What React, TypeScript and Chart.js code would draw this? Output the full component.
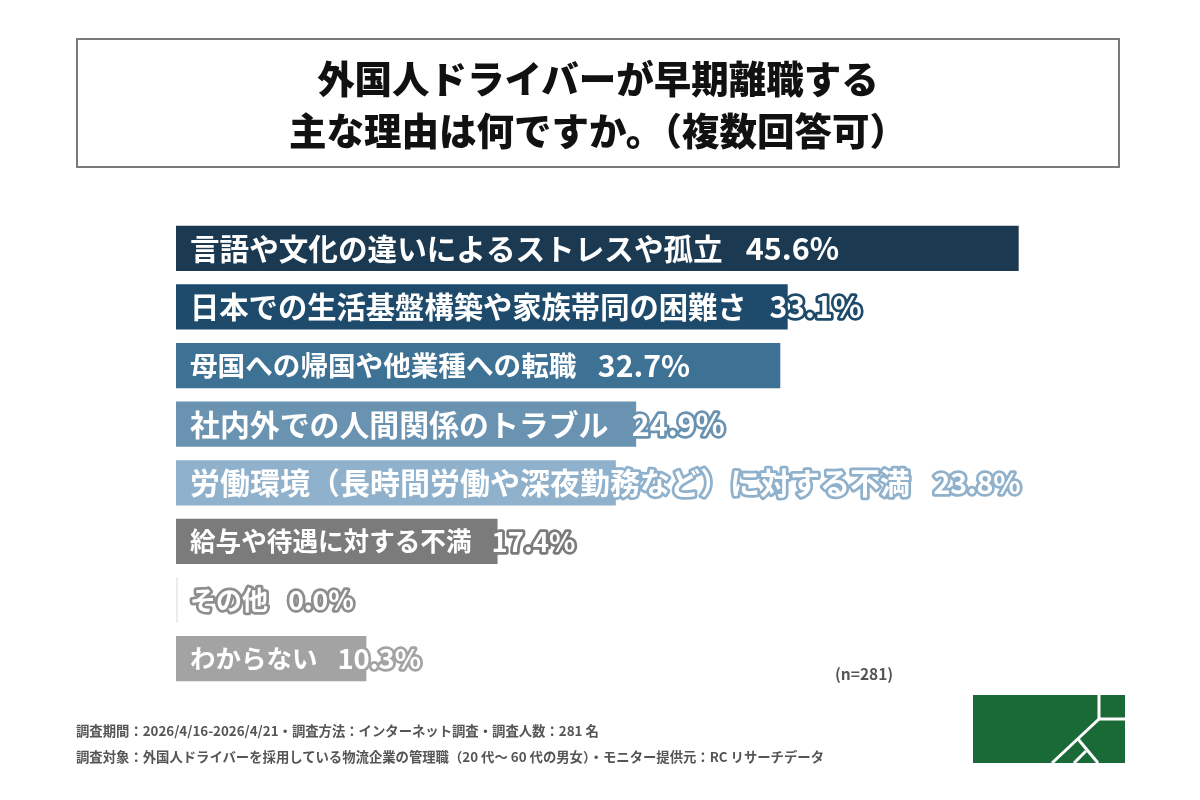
import React, { useEffect, useRef } from "react";
import { Chart, registerables } from "chart.js";

Chart.register(...registerables);

const categories = [
  "言語や文化の違いによるストレスや孤立",
  "日本での生活基盤構築や家族帯同の困難さ",
  "母国への帰国や他業種への転職",
  "社内外での人間関係のトラブル",
  "労働環境（長時間労働や深夜勤務など）に対する不満",
  "給与や待遇に対する不満",
  "その他",
  "わからない",
];
const values = [45.6, 33.1, 32.7, 24.9, 23.8, 17.4, 0.0, 10.3];
const barColors = [
  "#1b3a52",
  "#1e4a6b",
  "#3e7295",
  "#6a93b2",
  "#8fb1cc",
  "#7b7b7b",
  "#ebebeb",
  "#a3a3a3",
];
const outlineColors = [
  "#1b3a52",
  "#1e4a6b",
  "#3e7295",
  "#6a93b2",
  "#8fb1cc",
  "#7b7b7b",
  "#8e8e8e",
  "#a3a3a3",
];
const labelSizes = [29.6, 29.3, 27.6, 29.9, 30, 25.6, 26, 25.5];
const valueSizes = [30.5, 30.2, 30.2, 30.4, 28.6, 27.4, 26.6, 27.4];
const titleLines = ["外国人ドライバーが早期離職する", "主な理由は何ですか。（複数回答可）"];
const footerLines = [
  "調査期間：2026/4/16-2026/4/21・調査方法：インターネット調査・調査人数：281 名",
  "調査対象：外国人ドライバーを採用している物流企業の管理職（20 代～ 60 代の男女）・モニター提供元：RC リサーチデータ",
];
const sampleNote = "(n=281)";

const FONT = "'Noto Sans CJK JP', 'Noto Sans', sans-serif";

const labelPlugin = {
  id: "barLabels",
  afterDatasetsDraw(chart: any) {
    const ctx = chart.ctx;
    const meta = chart.getDatasetMeta(0);
    ctx.save();
    ctx.textBaseline = "middle";
    ctx.textAlign = "left";
    ctx.lineJoin = "round";
    meta.data.forEach((bar: any, i: number) => {
      const size = labelSizes[i];
      const x = chart.chartArea.left + 14;
      const y = bar.y;
      const draw = (t: string, tx: number) => {
        ctx.lineWidth = 5.5;
        ctx.strokeStyle = outlineColors[i];
        ctx.strokeText(t, tx, y);
        ctx.fillStyle = "#ffffff";
        ctx.fillText(t, tx, y);
      };
      ctx.font = `bold ${size}px ${FONT}`;
      const label = categories[i];
      draw(label, x);
      const w = ctx.measureText(label).width;
      ctx.font = `bold ${valueSizes[i]}px ${FONT}`;
      draw(`${values[i].toFixed(1)}%`, x + w + size * 0.78);
    });
    ctx.restore();
  },
};

export default function App() {
  const canvasRef = useRef<HTMLCanvasElement | null>(null);

  useEffect(() => {
    const canvas = canvasRef.current;
    if (!canvas) return;
    const chart = new Chart(canvas, {
      type: "bar",
      data: {
        labels: categories,
        datasets: [
          {
            data: values,
            backgroundColor: barColors,
            borderWidth: 0,
            barPercentage: 0.77,
            categoryPercentage: 1,
            minBarLength: 2,
          },
        ],
      },
      options: {
        indexAxis: "y",
        responsive: false,
        animation: false,
        layout: { padding: { left: 176, right: 100, top: 219, bottom: 112 } },
        plugins: {
          legend: { display: false },
          tooltip: { enabled: false },
          title: { display: false },
        },
        scales: {
          x: { display: false, min: 0, max: 50 },
          y: { display: false },
        },
      },
      plugins: [labelPlugin],
    });
    return () => chart.destroy();
  }, []);

  return (
    <div
      style={{
        position: "absolute",
        left: 0,
        top: 0,
        width: 1200,
        height: 800,
        background: "#ffffff",
        fontFamily: FONT,
        overflow: "hidden",
      }}
    >
      <canvas ref={canvasRef} width={1200} height={800} style={{ position: "absolute", left: 0, top: 0 }} />
      <div
        style={{
          position: "absolute",
          left: 76,
          top: 38,
          width: 1040,
          height: 126,
          border: "2px solid #7a7a7a",
          display: "flex",
          flexDirection: "column",
          alignItems: "center",
          justifyContent: "center",
        }}
      >
        {titleLines.map((t, i) => (
          <div key={i} style={{ fontSize: 37.5, fontWeight: 900, lineHeight: "52px", color: "#111", whiteSpace: "nowrap" }}>
            {t}
          </div>
        ))}
      </div>
      <div
        style={{
          position: "absolute",
          left: 835,
          top: 662,
          fontSize: 15.5,
          fontWeight: 700,
          color: "#555",
          lineHeight: "22px",
        }}
      >
        {sampleNote}
      </div>
      {footerLines.map((t, i) => (
        <div
          key={i}
          style={{
            position: "absolute",
            left: 76,
            top: 721 + i * 26,
            fontSize: 13.35,
            fontWeight: 700,
            color: "#555",
            lineHeight: "20px",
            whiteSpace: "nowrap",
          }}
        >
          {t}
        </div>
      ))}
      <svg
        style={{ position: "absolute", left: 973, top: 695 }}
        width={152}
        height={68}
        viewBox="0 0 152 68"
      >
        <rect x={0} y={0} width={152} height={68} fill="#1a6a37" />
        <g stroke="#ffffff" strokeWidth={3} fill="none">
          <polyline points="126,0 126,24 152,24" />
          <line x1={126} y1={24} x2={79} y2={68} />
          <line x1={105} y1={44} x2={125} y2={68} />
          <line x1={113} y1={56} x2={101} y2={68} />
        </g>
      </svg>
    </div>
  );
}
